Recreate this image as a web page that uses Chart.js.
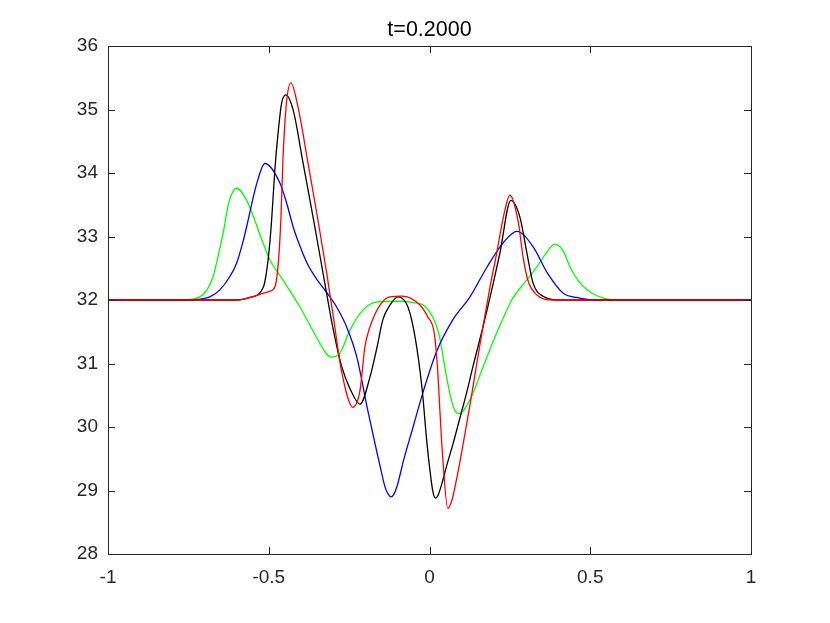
<!DOCTYPE html>
<html>
<head>
<meta charset="utf-8">
<script src="https://cdn.jsdelivr.net/npm/chart.js@4/dist/chart.umd.min.js"></script>
<style>
  html, body { margin: 0; padding: 0; background: #fff; }
  canvas { display: block; }
</style>
</head>
<body>
<canvas id="c" width="830" height="623"></canvas>
<script>
// ---- data ----
const titleText = 't=0.2000';
const xTickValues = [-1, -0.5, 0, 0.5, 1];
const yTickValues = [28, 29, 30, 31, 32, 33, 34, 35, 36];

const greenX = [-1, -0.78, -0.745, -0.714, -0.692, -0.673, -0.658, -0.642, -0.627, -0.614, -0.6, -0.565, -0.521, -0.496, -0.455, -0.403, -0.351, -0.32, -0.304, -0.278, -0.247, -0.207, -0.163, -0.1, -0.05, -0.02, 0.011, 0.03, 0.053, 0.074, 0.092, 0.126, 0.167, 0.209, 0.256, 0.3, 0.334, 0.36, 0.39, 0.415, 0.437, 0.462, 0.49, 0.54, 0.6, 1];
const greenY = [32, 32, 32.01, 32.05, 32.16, 32.37, 32.68, 33.05, 33.47, 33.68, 33.76, 33.53, 32.94, 32.63, 32.31, 31.89, 31.41, 31.15, 31.10, 31.17, 31.53, 31.84, 31.97, 31.98, 31.96, 31.92, 31.72, 31.45, 30.79, 30.32, 30.21, 30.43, 30.95, 31.48, 32.0, 32.3, 32.52, 32.72, 32.88, 32.78, 32.52, 32.31, 32.16, 32.03, 32.0, 32];

const blueX = [-1, -0.75, -0.72, -0.683, -0.652, -0.621, -0.6, -0.579, -0.569, -0.537, -0.512, -0.465, -0.444, -0.424, -0.403, -0.378, -0.351, -0.32, -0.289, -0.258, -0.226, -0.194, -0.163, -0.15, -0.138, -0.128, -0.12, -0.112, -0.102, -0.09, -0.082, -0.051, -0.02, 0.023, 0.073, 0.126, 0.179, 0.229, 0.272, 0.322, 0.366, 0.415, 0.468, 0.52, 1];
const blueY = [32, 32, 32.01, 32.05, 32.16, 32.37, 32.58, 32.94, 33.15, 33.84, 34.15, 33.84, 33.52, 33.15, 32.85, 32.55, 32.33, 32.12, 31.89, 31.58, 31.10, 30.31, 29.59, 29.3, 29.05, 28.94, 28.9, 28.93, 29.05, 29.28, 29.45, 30.0, 30.55, 31.2, 31.69, 32.05, 32.52, 32.9, 33.08, 32.84, 32.43, 32.11, 32.03, 32.0, 32];

const blackX = [-1, -0.6, -0.558, -0.517, -0.501, -0.491, -0.481, -0.47, -0.46, -0.447, -0.424, -0.393, -0.362, -0.331, -0.3, -0.273, -0.247, -0.216, -0.185, -0.163, -0.145, -0.123, -0.098, -0.067, -0.045, -0.023, -0.008, 0.003, 0.011, 0.019, 0.027, 0.038, 0.054, 0.074, 0.095, 0.116, 0.135, 0.16, 0.179, 0.2, 0.219, 0.253, 0.281, 0.303, 0.322, 0.353, 0.406, 1];
const blackY = [32, 32.0, 32.04, 32.2, 32.68, 33.26, 34.05, 34.68, 35.1, 35.23, 34.99, 34.15, 33.3, 32.42, 31.55, 30.95, 30.6, 30.36, 30.79, 31.26, 31.69, 31.92, 32.05, 31.89, 31.42, 30.6, 29.75, 29.25, 28.97, 28.88, 28.93, 29.1, 29.4, 29.75, 30.15, 30.55, 30.95, 31.45, 31.84, 32.3, 32.74, 33.57, 33.31, 32.74, 32.27, 32.06, 32.0, 32];

const redX = [-1, -0.6, -0.527, -0.496, -0.48, -0.47, -0.462, -0.456, -0.445, -0.431, -0.409, -0.378, -0.347, -0.319, -0.298, -0.278, -0.263, -0.25, -0.239, -0.216, -0.201, -0.185, -0.154, -0.123, -0.086, -0.03, -0.005, 0.014, 0.024, 0.033, 0.04, 0.057, 0.07, 0.085, 0.1, 0.126, 0.147, 0.167, 0.188, 0.209, 0.23, 0.25, 0.275, 0.291, 0.306, 0.334, 0.384, 1];
const redY = [32, 32.0, 32.09, 32.14, 32.22, 32.6, 33.3, 34.2, 35.1, 35.42, 35.04, 34.16, 33.26, 32.4, 31.7, 31.0, 30.63, 30.4, 30.31, 30.58, 31.26, 31.58, 31.92, 32.05, 32.06, 31.92, 31.73, 31.5, 31.0, 30.2, 29.6, 28.72, 28.85, 29.2, 29.6, 30.35, 31.0, 31.6, 32.2, 32.74, 33.31, 33.65, 33.26, 32.68, 32.31, 32.08, 32.0, 32];

function pts(xs, ys) { return xs.map((x, i) => ({ x: x, y: ys[i] })); }

const FONT = "'Liberation Sans', Arial, Helvetica, sans-serif";
const AXIS_COLOR = '#262626';

// draws the box's top/right edges and inward tick marks on all four sides
const boxTicks = {
  id: 'boxTicks',
  afterDraw(chart) {
    const { ctx, chartArea: a, scales } = chart;
    const len = 7;
    ctx.save();
    ctx.strokeStyle = AXIS_COLOR;
    ctx.lineWidth = 1;
    ctx.beginPath();
    ctx.rect(Math.round(a.left) + 0.5, Math.round(a.top) + 0.5,
             Math.round(a.right - a.left), Math.round(a.bottom - a.top));
    scales.x.ticks.forEach(t => {
      const px = Math.round(scales.x.getPixelForValue(t.value)) + 0.5;
      ctx.moveTo(px, a.bottom); ctx.lineTo(px, a.bottom - len);
      ctx.moveTo(px, a.top); ctx.lineTo(px, a.top + len);
    });
    scales.y.ticks.forEach(t => {
      const py = Math.round(scales.y.getPixelForValue(t.value)) + 0.5;
      ctx.moveTo(a.left, py); ctx.lineTo(a.left + len, py);
      ctx.moveTo(a.right, py); ctx.lineTo(a.right - len, py);
    });
    ctx.stroke();
    ctx.restore();
  }
};

const lineDs = (label, xs, ys, color) => ({
  label: label,
  data: pts(xs, ys),
  borderColor: color,
  backgroundColor: color,
  borderWidth: 1.3,
  pointRadius: 0,
  fill: false,
  cubicInterpolationMode: 'monotone',
  yAxisID: 'y'
});

new Chart(document.getElementById('c'), {
  type: 'line',
  data: {
    datasets: [
      lineDs('red', redX, redY, '#ff0000'),
      lineDs('black', blackX, blackY, '#000000'),
      lineDs('blue', blueX, blueY, '#0000ff'),
      lineDs('green', greenX, greenY, '#00ff00')
    ]
  },
  options: {
    responsive: false,
    animation: false,
    layout: { padding: { left: 29, right: 0, top: 0, bottom: 0 } },
    plugins: {
      legend: { display: false },
      tooltip: { enabled: false },
      title: {
        display: true,
        text: titleText,
        color: '#000',
        font: { family: FONT, size: 21.5, weight: 'normal', lineHeight: 1.2 },
        padding: { top: 17, bottom: 3.2 }
      }
    },
    scales: {
      x: {
        type: 'linear',
        min: -1, max: 1,
        afterBuildTicks: s => { s.ticks = xTickValues.map(v => ({ value: v })); },
        afterFit: s => { s.height = 69; },
        ticks: {
          color: '#262626',
          font: { family: FONT, size: 19 },
          padding: 12,
          maxRotation: 0,
          callback: v => String(Number(v.toFixed(2)))
        },
        grid: { drawOnChartArea: false, drawTicks: false },
        border: { display: true, color: AXIS_COLOR, width: 1 }
      },
      y: {
        type: 'linear',
        position: 'left',
        min: 28, max: 36,
        afterBuildTicks: s => { s.ticks = yTickValues.map(v => ({ value: v })); },
        afterFit: s => { s.width = 79; },
        ticks: {
          color: '#262626',
          font: { family: FONT, size: 19 },
          padding: 10,
          callback: v => String(v)
        },
        grid: { drawOnChartArea: false, drawTicks: false },
        border: { display: true, color: AXIS_COLOR, width: 1 }
      },
      yRight: {
        type: 'linear',
        position: 'right',
        min: 28, max: 36,
        afterFit: s => { s.width = 79; },
        ticks: { display: false },
        grid: { display: false, drawTicks: false },
        border: { display: false }
      }
    }
  },
  plugins: [boxTicks]
});
</script>
</body>
</html>
